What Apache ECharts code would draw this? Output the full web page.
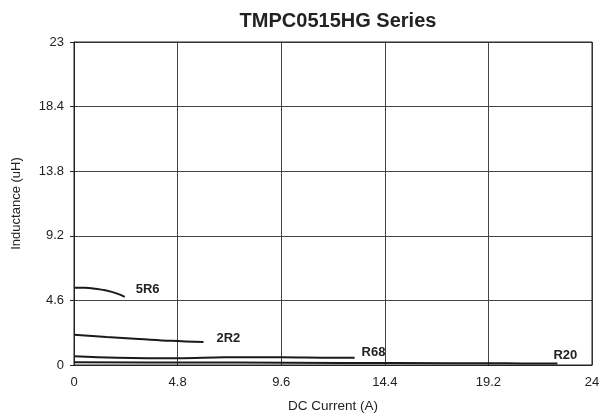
<!DOCTYPE html>
<html><head><meta charset="utf-8">
<script src="https://cdn.jsdelivr.net/npm/echarts@6/dist/echarts.min.js"></script>
<style>html,body{margin:0;padding:0;background:#fff}#c{width:611px;height:416px}</style>
</head><body><div id="c"></div>
<script>
const title = 'TMPC0515HG Series';
const xTicks = [0, 4.8, 9.6, 14.4, 19.2, 24];
const yTicks = [0, 4.6, 9.2, 13.8, 18.4, 23];
const s5R6 = [[0,5.5],[0.5,5.5],[1,5.43],[1.5,5.3],[2,5.08],[2.35,4.85]];
const s2R2 = [[0,2.15],[1.5,2.0],[3,1.86],[4.5,1.72],[6,1.63]];
const sR68 = [[0,0.62],[2,0.52],[4.8,0.48],[7,0.55],[9.6,0.56],[12,0.52],[13,0.52]];
const sR20 = [[0,0.2],[5,0.18],[10,0.16],[15,0.14],[20,0.12],[22.4,0.1]];
const names = ['5R6','2R2','R68','R20'];
const labelOffsets = [[3,-7],[5,-4],[-1,-5],[-12,-8]];

const chart = echarts.init(document.getElementById('c'));
const font = 'Liberation Sans, Arial, sans-serif';
const data = [s5R6, s2R2, sR68, sR20];
const fmt = v => String(+v.toFixed(1));
chart.setOption({
  animation:false,
  title:{text:title,left:333,textAlign:'center',top:6,textStyle:{fontFamily:font,fontSize:20,fontWeight:'bold',color:'#222'}},
  grid:{left:74,right:19,top:42,bottom:51,outerBoundsMode:'none',containLabel:false},
  xAxis:{type:'value',min:0,max:24,interval:4.8,name:'DC Current (A)',nameLocation:'middle',nameGap:34,
    nameTextStyle:{fontFamily:font,fontSize:13.5,color:'#222'},
    axisLine:{lineStyle:{color:'#222',width:1}},axisTick:{show:false},
    axisLabel:{fontFamily:font,fontSize:13,color:'#222',margin:11,formatter:fmt},
    splitLine:{show:true,lineStyle:{color:'#444',width:1}}},
  yAxis:{type:'value',min:0,max:23,interval:4.6,name:'Inductance (uH)',nameLocation:'middle',nameGap:51,
    nameTextStyle:{fontFamily:font,fontSize:13,color:'#222'},
    axisLine:{show:true,lineStyle:{color:'#222',width:1}},axisTick:{show:true,length:4,lineStyle:{color:'#222'}},
    axisLabel:{fontFamily:font,fontSize:13,color:'#222',margin:10,formatter:fmt},
    splitLine:{show:true,lineStyle:{color:'#444',width:1}}},
  series: data.map((d,i)=>({
    type:'line',name:names[i],data:d,showSymbol:false,smooth:0.4,
    lineStyle:{color:'#1a1a1a',width:2},
    endLabel:{show:true,formatter:names[i],offset:labelOffsets[i],fontFamily:font,fontSize:13,fontWeight:'bold',color:'#222'}
  })),
  graphic:[{type:'rect',shape:{x:74,y:42,width:518,height:323},style:{fill:'none',stroke:'#222',lineWidth:1},silent:true,z:10}]
});
</script></body></html>
